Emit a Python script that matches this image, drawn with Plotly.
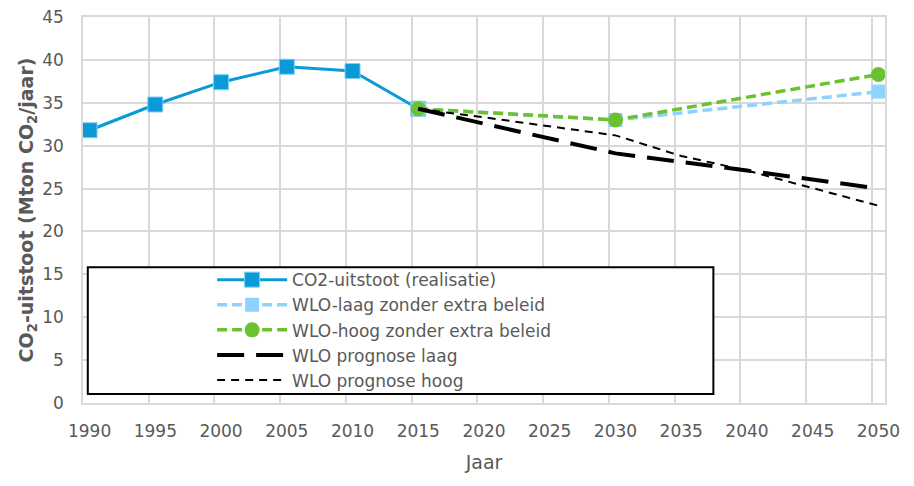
import plotly.graph_objects as go

years_real = [1990, 1995, 2000, 2005, 2010, 2015]
co2_real = [31.8, 34.8, 37.4, 39.2, 38.7, 34.3]

years_wlo = [2015, 2030, 2050]
wlo_laag = [34.3, 33.0, 36.3]
wlo_hoog = [34.3, 33.0, 38.3]

years_prog_laag = [2015, 2030, 2040, 2050]
prog_laag = [34.3, 29.1, 27.1, 25.0]

years_prog_hoog = [2015, 2020, 2030, 2035, 2040, 2050]
prog_hoog = [34.3, 33.3, 31.2, 28.8, 27.1, 23.0]

x_ticks = list(range(1990, 2051, 5))
y_ticks = list(range(0, 46, 5))

TXT = "#595959"
GRID = "#D9D9D9"
FONT = "DejaVu Sans"

fig = go.Figure()
fig.add_trace(go.Scatter(
    x=years_real, y=co2_real, name="CO2-uitstoot (realisatie)",
    mode="lines+markers", line=dict(color="#0A9AD7", width=3),
    marker=dict(symbol="square", size=15, color="#0A9AD7", line=dict(color="#7FD0F2", width=1)),
    cliponaxis=False))
fig.add_trace(go.Scatter(
    x=years_wlo, y=wlo_laag, name="WLO-laag zonder extra beleid",
    mode="lines+markers", line=dict(color="#8ED3FD", width=3.5, dash="10px,5px"),
    marker=dict(symbol="square", size=14, color="#8ED3FD"),
    cliponaxis=False))
fig.add_trace(go.Scatter(
    x=years_wlo, y=wlo_hoog, name="WLO-hoog zonder extra beleid",
    mode="lines+markers", line=dict(color="#6CC22E", width=3.5, dash="10px,5px"),
    marker=dict(symbol="circle", size=15, color="#6CC22E"),
    cliponaxis=False))
fig.add_trace(go.Scatter(
    x=years_prog_laag, y=prog_laag, name="WLO prognose laag",
    mode="lines", line=dict(color="black", width=4, dash="27px,12px"),
    cliponaxis=False))
fig.add_trace(go.Scatter(
    x=years_prog_hoog, y=prog_hoog, name="WLO prognose hoog",
    mode="lines", line=dict(color="black", width=2, dash="8px,6px"),
    cliponaxis=False))

# legend frame (white box with black border)
fig.add_shape(type="rect", xref="paper", yref="paper",
              x0=0.006, x1=0.786, y0=0.023, y1=0.352,
              fillcolor="white", line=dict(color="black", width=2), layer="above")

fig.update_layout(
    width=914, height=486,
    margin=dict(l=75, r=37, t=9, b=91, autoexpand=False),
    paper_bgcolor="white", plot_bgcolor="white",
    font=dict(family=FONT, color=TXT, size=17),
    showlegend=True,
    legend=dict(x=0.161, y=0.365, xanchor="left", yanchor="top",
                bgcolor="rgba(0,0,0,0)", borderwidth=0,
                font=dict(family=FONT, size=17, color=TXT),
                itemwidth=70, tracegroupgap=0),
    xaxis=dict(range=[1989.5, 2050.5], tickmode="array", tickvals=x_ticks,
               ticktext=[str(v) for v in x_ticks], showgrid=False, zeroline=False,
               showline=True, mirror=True, linecolor=GRID, linewidth=1.5,
               ticks="", ticklabelstandoff=12, automargin=False,
               ticklabeloverflow="allow",
               tickfont=dict(family=FONT, size=17, color=TXT),
               minor=dict(tick0=1989.5, dtick=5, showgrid=True, gridcolor=GRID,
                          gridwidth=1.5, ticks=""),
               title=dict(text="Jaar", font=dict(family=FONT, size=19, color=TXT), standoff=16)),
    yaxis=dict(range=[0, 45], tickmode="array", tickvals=y_ticks,
               showgrid=True, gridcolor=GRID, gridwidth=1.5, zeroline=False,
               showline=True, mirror=True, linecolor=GRID, linewidth=1.5,
               ticks="", ticklabelstandoff=14, automargin=False,
               ticklabeloverflow="allow",
               tickfont=dict(family=FONT, size=17, color=TXT),
               title=dict(text="<b>CO<sub>2</sub>-uitstoot (Mton CO<sub>2</sub>/jaar)</b>",
                          font=dict(family=FONT, size=19, color=TXT), standoff=4)),
)

fig.write_html("out.html")
